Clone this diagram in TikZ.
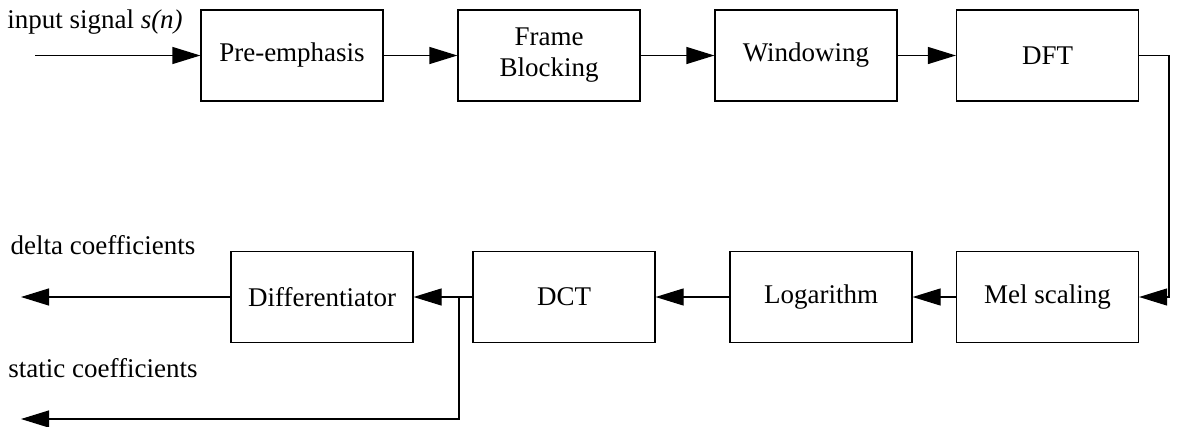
\documentclass[tikz,border=0pt]{standalone}
\usepackage{fontspec}
\setmainfont{Liberation Serif}
\usetikzlibrary{arrows.meta}
\begin{document}
\begin{tikzpicture}[x=1pt,y=-1pt,
  blk/.style={draw, line width=1.2pt, minimum width=182pt, minimum height=91pt, inner sep=0pt, align=center, font=\fontsize{27}{31}\selectfont},
  lbl/.style={font=\fontsize{27}{31}\selectfont, inner sep=0pt},
  conn/.style={line width=1.2pt, -{Triangle[length=28pt,width=17pt]}},
  wire/.style={line width=1.2pt}]
\useasboundingbox (0,0) rectangle (1188,426);
\node[blk] (pre) at (292,55.5) {Pre-emphasis};
\node[blk] (frame) at (549,55.5) {Frame\\Blocking};
\node[blk] (win) at (806,55.5) {Windowing};
\node[blk] (dft) at (1047.5,55.5) {DFT};
\node[blk] (diff) at (322,297) {Differentiator};
\node[blk] (dct) at (564,297) {DCT};
\node[blk] (log) at (821,297) {Logarithm};
\node[blk] (mel) at (1047.5,297) {Mel scaling};
\node[lbl] (inlbl) at (95,22) {input signal \textit{s(n)}};
\node[lbl] (dlbl) at (103,245) {delta coefficients};
\node[lbl] (slbl) at (103,368) {static coefficients};
\coordinate (in) at (35,55.5);
\coordinate (dout) at (21,297);
\coordinate (sout) at (21,419);
\coordinate (br) at (459,297);
\coordinate (brd) at (459,419);
\coordinate (c1) at (1169,55.5);
\coordinate (c2) at (1169,297);
\draw[conn] (in) -- (pre.west);
\draw[conn] (pre) -- (frame);
\draw[conn] (frame) -- (win);
\draw[conn] (win) -- (dft);
\draw[conn] (dft.east) -- (c1) -- (c2) -- (mel.east);
\draw[conn] (mel) -- (log);
\draw[conn] (log) -- (dct);
\draw[conn] (dct) -- (diff);
\draw[conn] (diff.west) -- (dout);
\draw[conn] (br) -- (brd) -- (sout);
\end{tikzpicture}
\end{document}
